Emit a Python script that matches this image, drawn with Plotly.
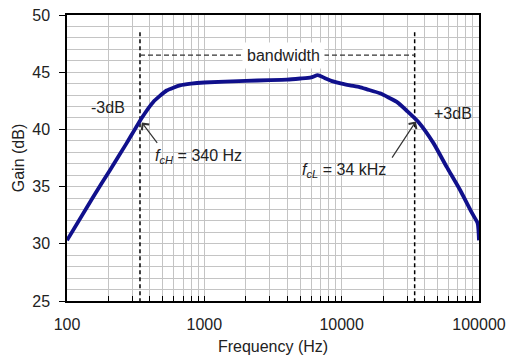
import plotly.graph_objects as go

freq = [100, 155, 206, 272, 350, 425, 532, 665, 800, 1000, 2000, 3000, 4000,
        5000, 6000, 6700, 7500, 8660, 10000, 11500, 13500, 15300, 19000, 25200,
        30000, 36200, 46600, 58300, 72800, 88800, 97700, 100000]
gain = [30.3, 34.1, 36.45, 38.8, 41.0, 42.4, 43.4, 43.85, 44.0, 44.1, 44.25, 44.3, 44.35,
        44.45, 44.55, 44.75, 44.5, 44.2, 44.0, 43.85, 43.7, 43.5, 43.15, 42.4,
        41.6, 40.65, 38.8, 36.7, 34.7, 32.7, 31.8, 30.3]

f_ch = 340
f_cl = 34000
x_major = [100, 1000, 10000, 100000]
y_ticks = [25, 30, 35, 40, 45, 50]

x_tickvals = []
for dec in [100, 1000, 10000]:
    for m in range(1, 10):
        x_tickvals.append(dec * m)
x_tickvals.append(100000)
x_ticktext = [str(v) if v in x_major else "" for v in x_tickvals]

TXT = "#222222"
FS = 16

fig = go.Figure()

# dashed cutoff lines
for fc in [f_ch, f_cl]:
    fig.add_trace(go.Scatter(x=[fc, fc], y=[48.5, 25], mode="lines",
                             line=dict(color="black", width=1.5, dash="4px,3px"),
                             hoverinfo="skip", showlegend=False))
# bandwidth dashed line
fig.add_trace(go.Scatter(x=[f_ch, f_cl], y=[46.5, 46.5], mode="lines",
                         line=dict(color="#333333", width=1.2, dash="5px,3px"),
                         hoverinfo="skip", showlegend=False))

fig.add_trace(go.Scatter(x=freq, y=gain, mode="lines",
                         line=dict(color="#10108c", width=3.8, shape="spline", smoothing=0.5),
                         showlegend=False))

ann = []
# bandwidth arrowheads
ann.append(dict(x=f_ch, y=46.5, ax=f_ch * 1.3, ay=46.5, xref="x", yref="y", axref="x", ayref="y",
                showarrow=True, arrowhead=4, arrowsize=1.6, arrowwidth=1.2, arrowcolor="#333333", text=""))
ann.append(dict(x=f_cl, y=46.5, ax=f_cl / 1.3, ay=46.5, xref="x", yref="y", axref="x", ayref="y",
                showarrow=True, arrowhead=4, arrowsize=1.6, arrowwidth=1.2, arrowcolor="#333333", text=""))
ann.append(dict(x=3.573, y=46.5, xref="x", yref="y", text="bandwidth", showarrow=False,
                bgcolor="white", borderpad=4, font=dict(size=FS, color=TXT)))
ann.append(dict(x=2.30, y=41.9, xref="x", yref="y", text="-3dB", showarrow=False,
                font=dict(size=FS, color=TXT)))
ann.append(dict(x=4.81, y=41.4, xref="x", yref="y", text="+3dB", showarrow=False,
                font=dict(size=FS, color=TXT)))
ann.append(dict(x=2.626, y=37.6, xref="x", yref="y", text="<i>f</i><sub><i>cH</i></sub> = 340 Hz",
                showarrow=False, xanchor="left", font=dict(size=FS, color=TXT)))
ann.append(dict(x=3.697, y=36.45, xref="x", yref="y", text="<i>f</i><sub><i>cL</i></sub> = 34 kHz",
                showarrow=False, xanchor="left", font=dict(size=FS, color=TXT)))
# pointer arrows
ann.append(dict(x=2.545, y=40.6, ax=2.665, ay=38.7, xref="x", yref="y", axref="x", ayref="y",
                showarrow=True, arrowhead=4, arrowsize=1.5, arrowwidth=1.2, arrowcolor="#333333", text=""))
ann.append(dict(x=4.54, y=40.7, ax=4.36, ay=37.4, xref="x", yref="y", axref="x", ayref="y",
                showarrow=True, arrowhead=4, arrowsize=1.5, arrowwidth=1.2, arrowcolor="#333333", text=""))

fig.update_layout(
    width=510, height=355,
    margin=dict(l=67, r=31, t=15, b=54, autoexpand=False),
    paper_bgcolor="white", plot_bgcolor="white",
    font=dict(family="Liberation Sans, Arial, sans-serif", size=FS, color=TXT),
    annotations=ann,
    xaxis=dict(type="log", range=[2, 5], tickvals=x_tickvals, ticktext=x_ticktext,
               ticks="inside", ticklen=5, tickcolor="black", showgrid=True,
               gridcolor="#c4c4c4", gridwidth=1, showline=True, linecolor="black",
               linewidth=1.5, mirror=True, zeroline=False, automargin=False,
               ticklabelstandoff=8,
               title=dict(text="Frequency (Hz)", standoff=9, font=dict(size=FS)),
               tickfont=dict(size=FS)),
    yaxis=dict(range=[25, 50], tickvals=y_ticks, ticks="outside", ticklen=6,
               tickcolor="black", showgrid=True, gridcolor="#c4c4c4", gridwidth=1,
               minor=dict(dtick=1, showgrid=True, gridcolor="#c4c4c4", gridwidth=1),
               showline=True, linecolor="black", linewidth=1.5, mirror=True,
               zeroline=False, automargin=False, ticklabelstandoff=6,
               title=dict(text="Gain (dB)", standoff=4, font=dict(size=FS)),
               tickfont=dict(size=FS)),
)

fig.write_html("out.html")
